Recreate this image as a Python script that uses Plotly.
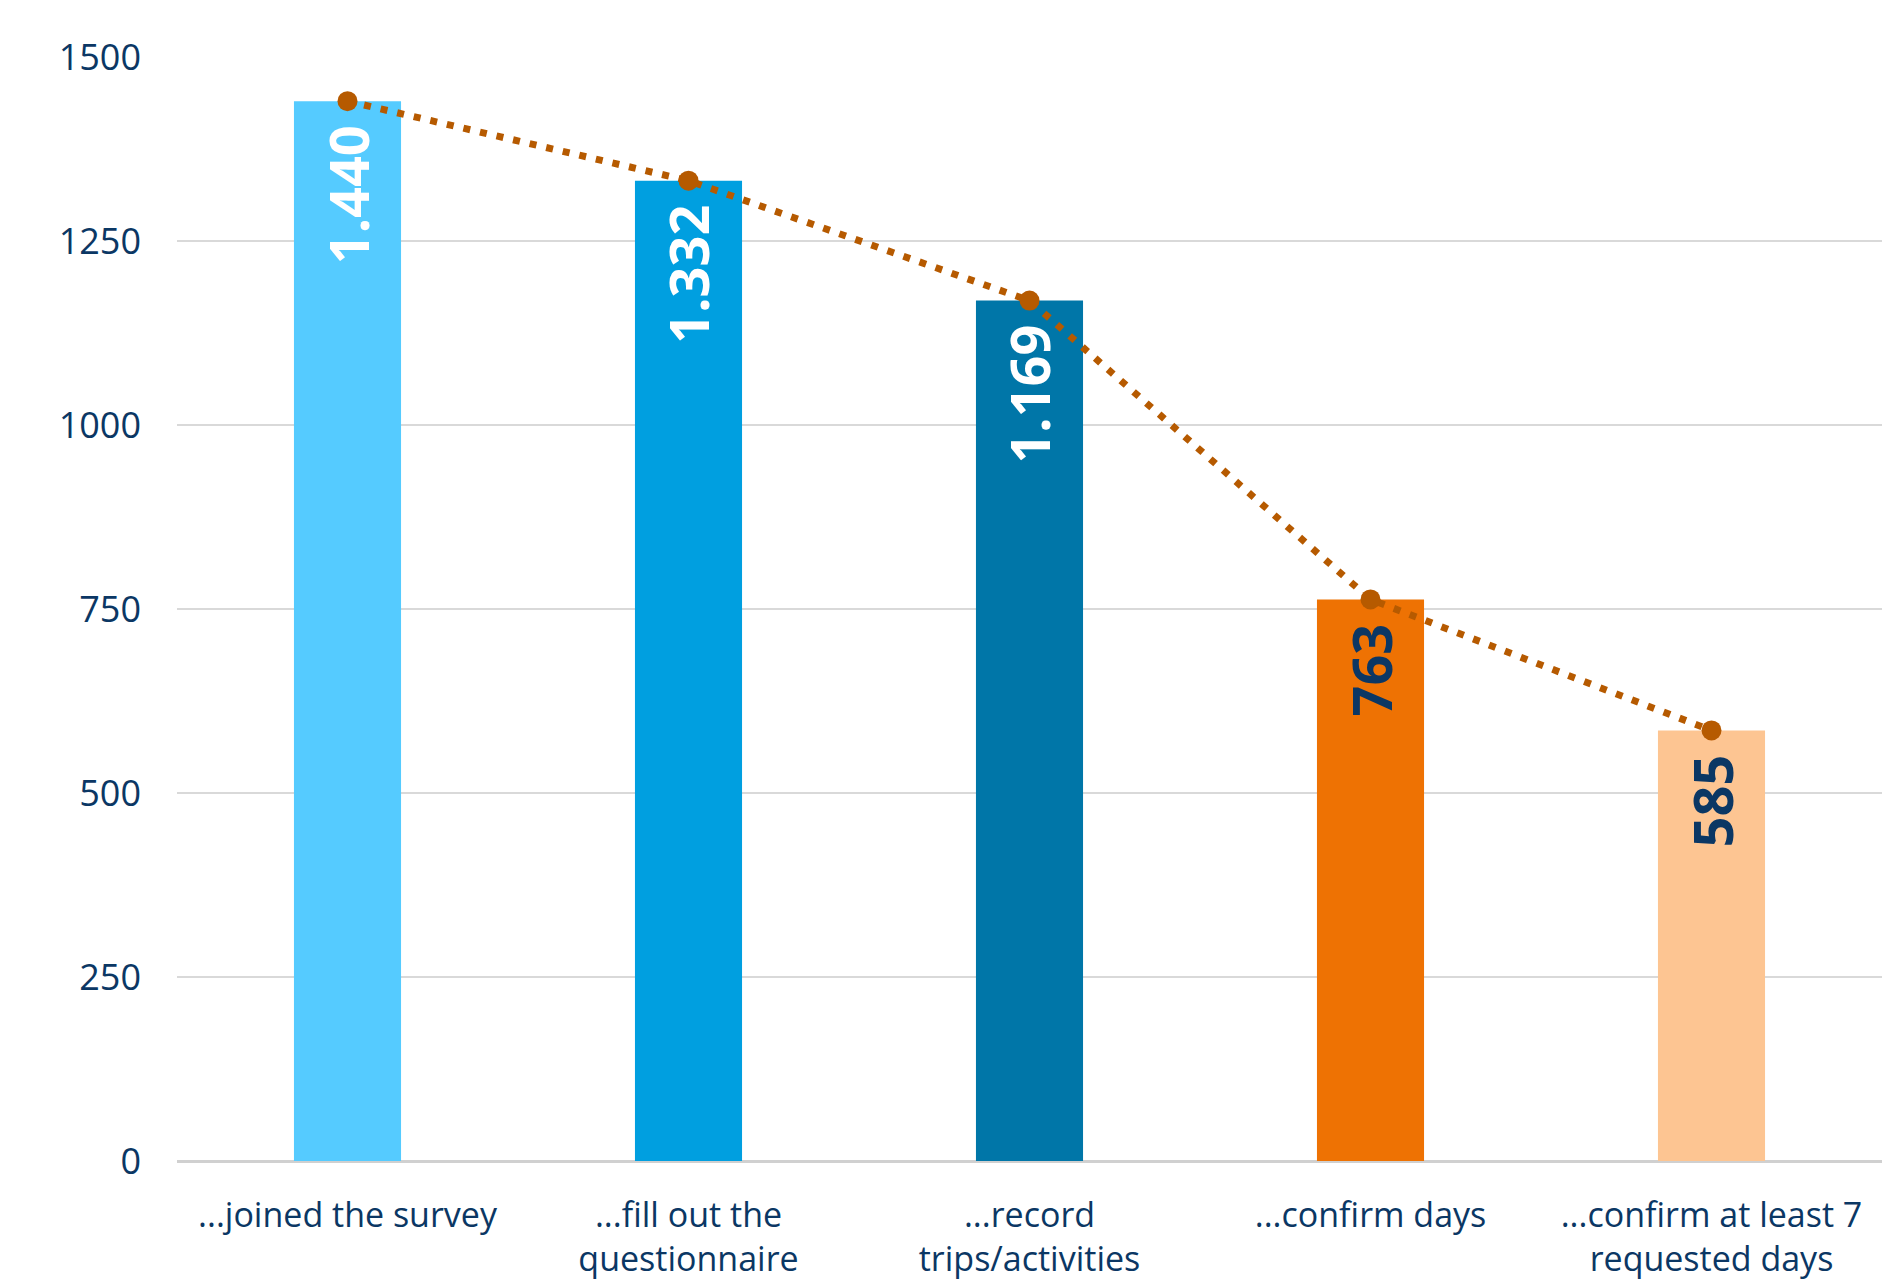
import plotly.graph_objects as go

categories = ["...joined the survey", "...fill out the<br>questionnaire", "...record<br>trips/activities",
              "...confirm days", "...confirm at least 7<br>requested days"]
values = [1440, 1332, 1169, 763, 585]
value_labels = ["1.440", "1.332", "1.169", "763", "585"]
bar_colors = ["#55CBFF", "#009FE0", "#0076A8", "#EE7203", "#FDC592"]
label_colors = ["#FFFFFF", "#FFFFFF", "#FFFFFF", "#0B3764", "#0B3764"]
tick_vals = [0, 250, 500, 750, 1000, 1250, 1500]

NAVY = "#0B3764"
FONT = "Open Sans"

fig = go.Figure()
fig.add_trace(go.Bar(x=categories, y=values, marker=dict(color=bar_colors, line=dict(width=0)),
                     hoverinfo="skip", showlegend=False))
fig.add_trace(go.Scatter(x=categories, y=values, mode="lines+markers",
                         line=dict(color="#B65A00", width=7, dash="7px,10px"),
                         marker=dict(color="#B65A00", size=20),
                         hoverinfo="skip", showlegend=False))

for c, v, t, col in zip(categories, values, value_labels, label_colors):
    fig.add_annotation(x=c, y=v, text="<b>%s</b>" % t, textangle=-90, showarrow=False,
                       xanchor="center", yanchor="top", yshift=-22,
                       font=dict(family=FONT, size=54, color=col))

fig.update_layout(
    width=1885, height=1285,
    margin=dict(l=177, r=3, t=57, b=124),
    plot_bgcolor="white", paper_bgcolor="white",
    bargap=0.686,
    font=dict(family=FONT, color=NAVY),
)
fig.update_yaxes(range=[0, 1500], tickvals=tick_vals, showgrid=True, gridcolor="#D9D9D9", gridwidth=2,
                 zeroline=True, zerolinecolor="#D0D0D0", zerolinewidth=3,
                 tickfont=dict(family=FONT, size=36, color=NAVY), ticklabelstandoff=35, showline=False)
fig.update_xaxes(tickfont=dict(family=FONT, size=34, color=NAVY), showgrid=False, showline=False,
                 ticklabelstandoff=31)

fig.write_html("out.html")
